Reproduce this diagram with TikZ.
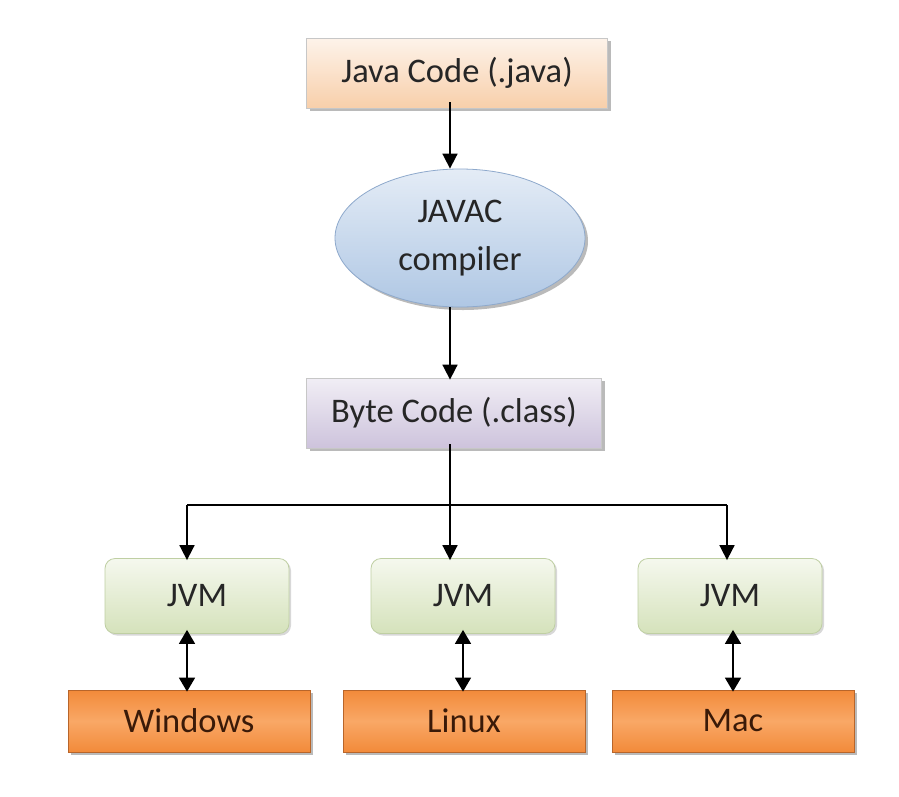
\documentclass[tikz,border=0pt]{standalone}
\usepackage{fontspec}
\setmainfont{Carlito}
\usetikzlibrary{shapes.geometric,shadows,arrows.meta}
\definecolor{javatop}{HTML}{FDF3EA}
\definecolor{javabot}{HTML}{F8CFAA}
\definecolor{comptop}{HTML}{E4ECF6}
\definecolor{compbot}{HTML}{AFC7E4}
\definecolor{compline}{HTML}{8EA9CC}
\definecolor{bytetop}{HTML}{F1EEF5}
\definecolor{bytebot}{HTML}{CDC3DC}
\definecolor{jvmtop}{HTML}{F5F8EE}
\definecolor{jvmbot}{HTML}{D5E2BB}
\definecolor{jvmline}{HTML}{BFCFA3}
\definecolor{osout}{HTML}{F28A3A}
\definecolor{osmid}{HTML}{F9A866}
\definecolor{osline}{HTML}{B8652A}
\definecolor{ostext}{HTML}{3A1A08}
\tikzset{
  base/.style={inner sep=0pt, font=\fontsize{34.5}{38}\selectfont, text=black!85},
  sh/.style={drop shadow={shadow xshift=3pt, shadow yshift=-3pt, fill=black!45, opacity=0.6}},
  javabox/.style={base, sh, draw=black!22, line width=0.8pt, minimum width=301pt, minimum height=70pt,
    top color=javatop, bottom color=javabot},
  compbox/.style={base, sh, ellipse, draw=compline, line width=0.8pt, minimum width=250pt, minimum height=138pt,
    top color=comptop, bottom color=compbot, align=center},
  bytebox/.style={base, sh, draw=black!22, line width=0.8pt, minimum width=295pt, minimum height=70pt,
    top color=bytetop, bottom color=bytebot},
  jvmbox/.style={base, draw=jvmline, line width=0.8pt, rounded corners=10pt, minimum width=184pt, minimum height=75pt,
    top color=jvmtop, bottom color=jvmbot,
    drop shadow={shadow xshift=2pt, shadow yshift=-2pt, fill=black!30, opacity=0.5}},
  osbox/.style={base, sh, draw=osline, line width=0.8pt, minimum width=242pt, minimum height=62pt,
    top color=osout, bottom color=osout, middle color=osmid, text=ostext},
  arr/.style={-{Triangle[length=15pt,width=15pt]}, line width=1.7pt},
  darr/.style={{Triangle[length=14pt,width=16pt]}-{Triangle[length=14pt,width=16pt]}, line width=1.7pt}
}
\begin{document}
\begin{tikzpicture}[x=1pt,y=-1pt]
\useasboundingbox[fill=white] (0,0) rectangle (899,796);
\node[javabox] (java) at (457,73) {Java Code (.java)};
\node[compbox] (comp) at (460,238) {JAVAC\\[10pt]compiler};
\node[bytebox] (byte) at (454,413) {Byte Code (.class)};
\node[jvmbox] (jvm1) at (197,596) {JVM};
\node[jvmbox] (jvm2) at (463,596) {JVM};
\node[jvmbox] (jvm3) at (730,596) {JVM};
\node[osbox] (win) at (189,721) {Windows};
\node[osbox] (lin) at (464,721) {Linux};
\node[osbox] (mac) at (733,721) {Mac};
\coordinate (split) at (450,505);
\coordinate (lsplit) at (187,505);
\coordinate (rsplit) at (727,505);
\draw[arr] ([yshift=6pt]java.south -| 450,0) -- (comp.north -| 450,0);
\draw[arr] (comp.south -| 450,0) -- ([yshift=-2pt]byte.north -| 450,0);
\draw[line width=1.7pt] ([yshift=4pt]byte.south -| 450,0) -- (split);
\draw[arr] (split) -- ([yshift=-2pt]jvm2.north -| 450,0);
\draw[line width=1.7pt] (lsplit) -- (rsplit);
\draw[arr] (lsplit) -- ([yshift=-2pt]jvm1.north -| lsplit);
\draw[arr] (rsplit) -- ([yshift=-2pt]jvm3.north -| rsplit);
\draw[darr] ([yshift=4pt]jvm1.south -| 187,0) -- ([yshift=-2pt]win.north -| 187,0);
\draw[darr] ([yshift=4pt]jvm2.south -| 463,0) -- ([yshift=-2pt]lin.north -| 463,0);
\draw[darr] ([yshift=4pt]jvm3.south -| 733,0) -- ([yshift=-2pt]mac.north -| 733,0);
\end{tikzpicture}
\end{document}
